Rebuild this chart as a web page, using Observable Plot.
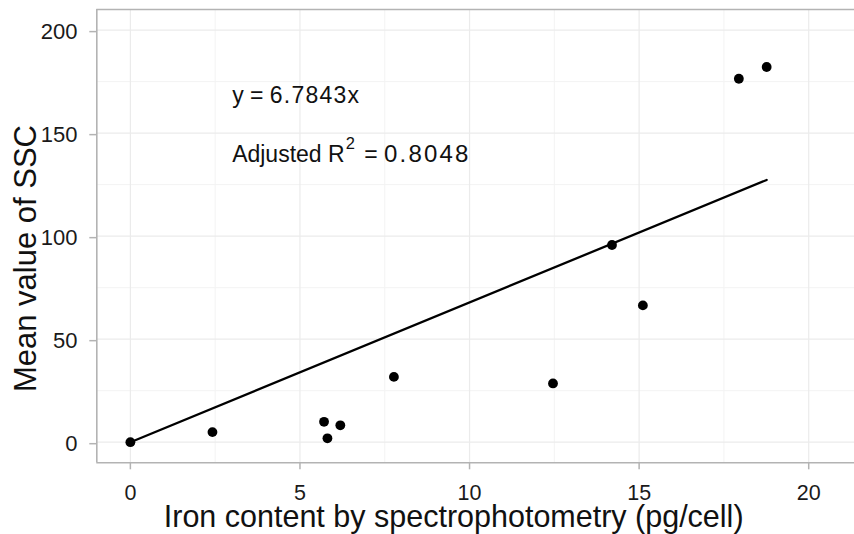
<!DOCTYPE html>
<html><head><meta charset="utf-8">
<script src="https://cdn.jsdelivr.net/npm/d3@7"></script>
<script src="https://cdn.jsdelivr.net/npm/@observablehq/plot@0.6"></script>
<style>body{margin:0;background:#fff} #chart svg{display:block}</style>
</head><body><div id="chart"></div>
<script>
// Data
const ironContent = [0, 2.42, 5.71, 5.81, 6.19, 7.77, 12.46, 14.2, 15.11, 17.94, 18.76];
const meanSSC     = [0, 4.9, 9.9, 1.9, 8.2, 31.7, 28.5, 95.7, 66.4, 176.4, 182.1];
const slope = 6.7843;
const xTicks = [0, 5, 10, 15, 20];
const yTicks = [0, 50, 100, 150, 200];
const xMinor = [2.5, 7.5, 12.5, 17.5];
const yMinor = [25, 75, 125, 175];
const annotations = ["y = 6.7843x", "Adjusted R\u00B2 = 0.8048"];
const annotationX = [3, 3];
const annotationY = [164.5, 136.2];
const xLabel = "Iron content by spectrophotometry (pg/cell)";
const yLabel = "Mean value of SSC";

const points = ironContent.map((x, i) => ({x, y: meanSSC[i]}));
const xMax = d3.max(ironContent);
const fit = [{x: 0, y: 0}, {x: xMax, y: slope * xMax}];
const notes = annotations.map((t, i) => ({text: t, x: annotationX[i], y: annotationY[i]}));

const border = "#b3b3b3";
const chart = Plot.plot({
  width: 854, height: 534,
  marginLeft: 96.3, marginRight: 0, marginTop: 9, marginBottom: 71.7,
  style: {fontFamily: "'Liberation Sans', Arial, sans-serif", background: "#fff", overflow: "visible"},
  x: {domain: [-0.99, 21.35]},
  y: {domain: [-10, 210]},
  marks: [
    Plot.ruleX(xMinor, {stroke: "#f3f3f3", strokeWidth: 1}),
    Plot.ruleY(yMinor, {stroke: "#f3f3f3", strokeWidth: 1}),
    Plot.ruleX(xTicks, {stroke: "#ebebeb", strokeWidth: 1.2}),
    Plot.ruleY(yTicks, {stroke: "#ebebeb", strokeWidth: 1.2}),
    Plot.ruleY([-10, 210], {stroke: border, strokeWidth: 1.6}),
    Plot.ruleX([-0.99], {stroke: border, strokeWidth: 1.6}),
    Plot.axisX({ticks: xTicks, tickSize: 7, tickPadding: 15.2, fontSize: 21.5, stroke: border, strokeWidth: 1.5, fill: "#1a1a1a", label: null, tickFormat: d => String(d)}),
    Plot.axisY({ticks: yTicks, tickSize: 7, tickPadding: 12.3, fontSize: 22, stroke: border, strokeWidth: 1.5, fill: "#1a1a1a", label: null, dy: 1.5, tickFormat: d => String(d)}),
    Plot.line(fit, {x: "x", y: "y", stroke: "#000", strokeWidth: 2.3}),
    Plot.dot(points, {x: "x", y: "y", r: 4.9, fill: "#000", stroke: null}),
    Plot.text(notes, {x: "x", y: "y", text: "text", textAnchor: "start", lineAnchor: "bottom", fontSize: 23, fill: "#111"}),
    Plot.text([xLabel], {text: d => d, frameAnchor: "bottom", dx: -22, dy: 64.4, lineAnchor: "bottom", fontSize: 30.5, fill: "#111"}),
    Plot.text([yLabel], {text: d => d, frameAnchor: "left", rotate: -90, dx: -61.3, dy: 22.4, lineAnchor: "bottom", textAnchor: "middle", fontSize: 31, fill: "#111"})
  ]
});

// Typeset the annotations (superscript and number spacing like plotmath)
d3.select(chart).selectAll("text").each(function() {
  const t = this.textContent;
  if (t === annotations[0]) {
    const [lhs, num] = t.split(" = ");
    const s = d3.select(this).text(null);
    s.append("tspan").text(lhs + " = ");
    s.append("tspan").attr("letter-spacing", 1.2).text(num);
  } else if (t === annotations[1]) {
    const [pre, post] = t.split("\u00B2");
    const num = post.replace(" = ", "");
    const s = d3.select(this).text(null);
    s.append("tspan").text(pre);
    s.append("tspan").attr("font-size", 16.5).attr("dy", -12.4).attr("dx", 1).text("2");
    s.append("tspan").attr("dy", 12.4).attr("dx", 3).text(" = ");
    s.append("tspan").attr("letter-spacing", 2.2).attr("font-size", 24).text(num);
  }
});
document.getElementById("chart").appendChild(chart);
</script>
</body></html>
